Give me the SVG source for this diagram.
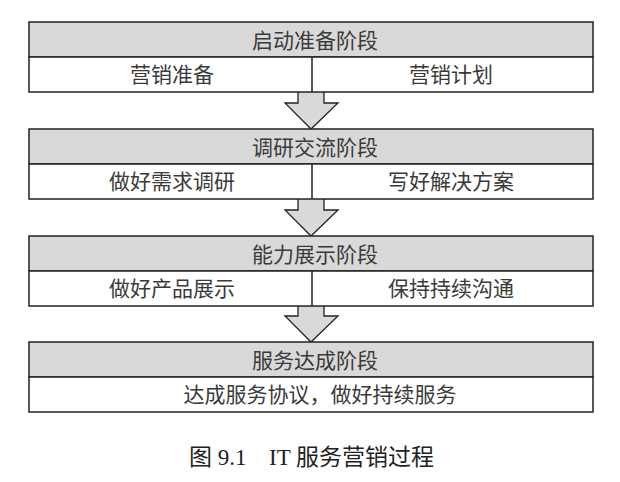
<svg xmlns="http://www.w3.org/2000/svg" width="620" height="482" viewBox="0 0 620 482">
<style>
.hdr{fill:#d9d9d9;stroke:#222;stroke-width:1.5}
.body{fill:#fff;stroke:#222;stroke-width:1.5}
.div{stroke:#222;stroke-width:1.5}
.arrow{fill:#d9d9d9;stroke:#222;stroke-width:1.3;stroke-linejoin:miter}
text{font-family:"Liberation Sans","Noto Sans CJK SC",sans-serif;font-size:21px;fill:#3a3a3a;text-anchor:middle}
.cap{font-family:"Liberation Serif","Noto Sans CJK SC",serif;font-size:23px;fill:#222;text-anchor:start}
</style>
<rect width="620" height="482" fill="#fff"/>
<g id="connectors">
<path class="arrow" d="M298,92 V103 H285 L311,129 L338,103 H324 V92"/>
<path class="arrow" d="M298,199 V210 H285 L311,236 L338,210 H324 V199"/>
<path class="arrow" d="M298,306 V316 H285 L311,342 L338,316 H324 V306"/>
</g>
<g id="stage1">
<rect class="hdr" x="29" y="22" width="564" height="35"/>
<rect class="body" x="29" y="57" width="564" height="35"/>
<line class="div" x1="312" y1="57" x2="312" y2="92"/>
<text x="315" y="48">启动准备阶段</text>
<text x="172" y="82">营销准备</text>
<text x="451" y="82">营销计划</text>
</g>
<g id="stage2">
<rect class="hdr" x="29" y="129" width="564" height="35"/>
<rect class="body" x="29" y="164" width="564" height="35"/>
<line class="div" x1="312" y1="164" x2="312" y2="199"/>
<text x="315" y="155">调研交流阶段</text>
<text x="172" y="189">做好需求调研</text>
<text x="451" y="189">写好解决方案</text>
</g>
<g id="stage3">
<rect class="hdr" x="29" y="236" width="564" height="35"/>
<rect class="body" x="29" y="271" width="564" height="35"/>
<line class="div" x1="312" y1="271" x2="312" y2="306"/>
<text x="315" y="262">能力展示阶段</text>
<text x="172" y="296">做好产品展示</text>
<text x="451" y="296">保持持续沟通</text>
</g>
<g id="stage4">
<rect class="hdr" x="29" y="342" width="564" height="35"/>
<rect class="body" x="29" y="377" width="564" height="35"/>
<text x="315" y="368">服务达成阶段</text>
<text x="320" y="402">达成服务协议，做好持续服务</text>
</g>
<text class="cap" x="189" y="465">图 9.1</text>
<text class="cap" x="269" y="465">IT 服务营销过程</text>
</svg>
